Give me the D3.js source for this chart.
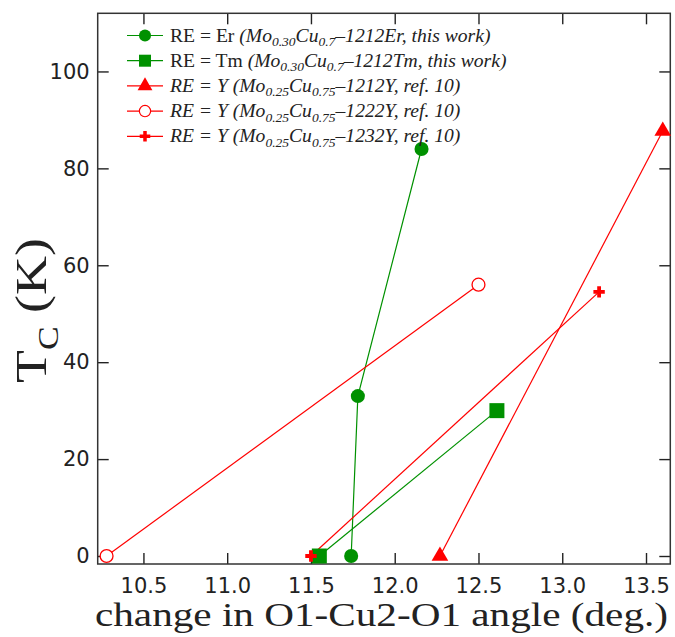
<!DOCTYPE html>
<html>
<head>
<meta charset="utf-8">
<script src="https://cdn.jsdelivr.net/npm/d3@7"></script>
<style>
  html, body { margin: 0; padding: 0; background: #fff; }
  svg { display: block; }
</style>
</head>
<body>
<svg id="chart" width="675" height="637"></svg>
<script>
// Tc versus change in O1-Cu2-O1 angle
const erAngle = [11.74, 11.78, 12.16];
const erTc = [0, 33, 84];
const tmAngle = [11.55, 12.61];
const tmTc = [0, 30];
const y1212Angle = [12.27, 13.60];
const y1212Tc = [0, 87.7];
const y1222Angle = [10.28, 12.50];
const y1222Tc = [0, 56];
const y1232Angle = [11.50, 13.22];
const y1232Tc = [0, 54.5];

const xTicks = [10.5, 11.0, 11.5, 12.0, 12.5, 13.0, 13.5];
const yTicks = [0, 20, 40, 60, 80, 100];

// legend text pieces
const legendNames = ["RE = Er", "RE = Tm", "RE = Y", "RE = Y", "RE = Y"];
const legendNameItalic = [false, false, true, true, true];
const legendMo = ["0.30", "0.30", "0.25", "0.25", "0.25"];
const legendCu = ["0.7", "0.7", "0.75", "0.75", "0.75"];
const legendPhase = ["1212Er", "1212Tm", "1212Y", "1222Y", "1232Y"];
const legendSource = ["this work", "this work", "ref. 10", "ref. 10", "ref. 10"];

const green = "#009100";
const red = "#ff0000";

const series = [
  { x: erAngle, y: erTc, color: green, symbol: d3.symbolCircle, size: 155, legendSize: 115, open: false },
  { x: tmAngle, y: tmTc, color: green, symbol: d3.symbolSquare, size: 225, legendSize: 144, open: false },
  { x: y1212Angle, y: y1212Tc, color: red, symbol: d3.symbolTriangle, size: 120, legendSize: 95, open: false },
  { x: y1222Angle, y: y1222Tc, color: red, symbol: d3.symbolCircle, size: 130, legendSize: 100, open: true },
  { x: y1232Angle, y: y1232Tc, color: red, symbol: d3.symbolCross, size: 72, legendSize: 62, open: false }
];

const svg = d3.select("#chart");
const plotLeft = 97.7, plotRight = 670.3, plotTop = 13.3, plotBottom = 564;

const x = d3.scaleLinear().domain([10.227, 13.645]).range([plotLeft, plotRight]);
const y = d3.scaleLinear().domain([-1.65, 112]).range([plotBottom, plotTop]);

// axes with inward ticks on all four sides
const tickFont = "DejaVu Sans, Liberation Sans, Arial, sans-serif";
const gBottom = svg.append("g").attr("transform", `translate(0,${plotBottom})`)
  .call(d3.axisBottom(x).tickValues(xTicks).tickFormat(d3.format(".1f")).tickSize(-11).tickPadding(14));
const gLeft = svg.append("g").attr("transform", `translate(${plotLeft},0)`)
  .call(d3.axisLeft(y).tickValues(yTicks).tickSize(-11).tickPadding(8));
const gTop = svg.append("g").attr("transform", `translate(0,${plotTop})`)
  .call(d3.axisTop(x).tickValues(xTicks).tickFormat("").tickSize(-11));
const gRight = svg.append("g").attr("transform", `translate(${plotRight},0)`)
  .call(d3.axisRight(y).tickValues(yTicks).tickFormat("").tickSize(-11));

[gBottom, gLeft, gTop, gRight].forEach(g => {
  g.select(".domain").remove();
  g.selectAll(".tick line").attr("stroke", "#222").attr("stroke-width", 1.4);
  g.selectAll(".tick text").attr("font-family", tickFont).attr("font-size", 21).attr("fill", "#222");
});

svg.append("rect")
  .attr("x", plotLeft).attr("y", plotTop)
  .attr("width", plotRight - plotLeft).attr("height", plotBottom - plotTop)
  .attr("fill", "none").attr("stroke", "#333").attr("stroke-width", 1.5);

// series lines and markers
const line = d3.line().x(d => x(d[0])).y(d => y(d[1]));
series.forEach(s => {
  const pts = s.x.map((v, i) => [v, s.y[i]]);
  svg.append("path").datum(pts)
    .attr("d", line).attr("fill", "none")
    .attr("stroke", s.color).attr("stroke-width", 1.2);
});
series.forEach(s => {
  const pts = s.x.map((v, i) => [v, s.y[i]]);
  svg.selectAll(null).data(pts).enter().append("path")
    .attr("transform", d => `translate(${x(d[0])},${y(d[1])})`)
    .attr("d", d3.symbol().type(s.symbol).size(s.size))
    .attr("fill", s.open ? "#fff" : s.color)
    .attr("stroke", s.open ? s.color : "none")
    .attr("stroke-width", 1.3);
});

// legend
const serif = "Liberation Serif, Times New Roman, serif";
const legX0 = 127, legX1 = 163, legMark = 145, legText = 170, legY0 = 35.5, legStep = 25.2;
const legend = svg.append("g");
series.forEach((s, i) => {
  const cy = legY0 + i * legStep;
  legend.append("line")
    .attr("x1", legX0).attr("x2", legX1).attr("y1", cy).attr("y2", cy)
    .attr("stroke", s.color).attr("stroke-width", 1.2);
  legend.append("path")
    .attr("transform", `translate(${legMark},${cy})`)
    .attr("d", d3.symbol().type(s.symbol).size(s.legendSize))
    .attr("fill", s.open ? "#fff" : s.color)
    .attr("stroke", s.open ? s.color : "none")
    .attr("stroke-width", 1.2);

  const t = legend.append("text")
    .attr("x", legText).attr("y", cy + 6)
    .attr("font-family", serif).attr("font-size", 19.6).attr("fill", "#222");
  t.append("tspan").attr("font-style", legendNameItalic[i] ? "italic" : "normal")
    .text(legendNames[i] + " ");
  t.append("tspan").attr("font-style", "italic").text("(Mo");
  t.append("tspan").attr("font-style", "italic").attr("font-size", 13.5).attr("dy", 4.5).text(legendMo[i]);
  t.append("tspan").attr("font-style", "italic").attr("dy", -4.5).text("Cu");
  t.append("tspan").attr("font-style", "italic").attr("font-size", 13.5).attr("dy", 4.5).text(legendCu[i]);
  t.append("tspan").attr("font-style", "italic").attr("dy", -4.5)
    .text("\u2013" + legendPhase[i] + ", " + legendSource[i] + ")");
});

// axis titles
svg.append("text")
  .attr("x", 95).attr("y", 626)
  .attr("font-family", serif).attr("font-size", 33).attr("fill", "#222")
  .attr("textLength", 573).attr("lengthAdjust", "spacingAndGlyphs")
  .text("change in O1-Cu2-O1 angle (deg.)");

const yTitle = svg.append("text")
  .attr("transform", "translate(46,383) rotate(-90)")
  .attr("font-family", serif).attr("font-size", 44).attr("fill", "#222")
  .attr("textLength", 145).attr("lengthAdjust", "spacingAndGlyphs");
yTitle.append("tspan").text("T");
yTitle.append("tspan").attr("font-size", 29).attr("dy", 12).text("C");
yTitle.append("tspan").attr("dy", -12).text(" (K)");
</script>
</body>
</html>
